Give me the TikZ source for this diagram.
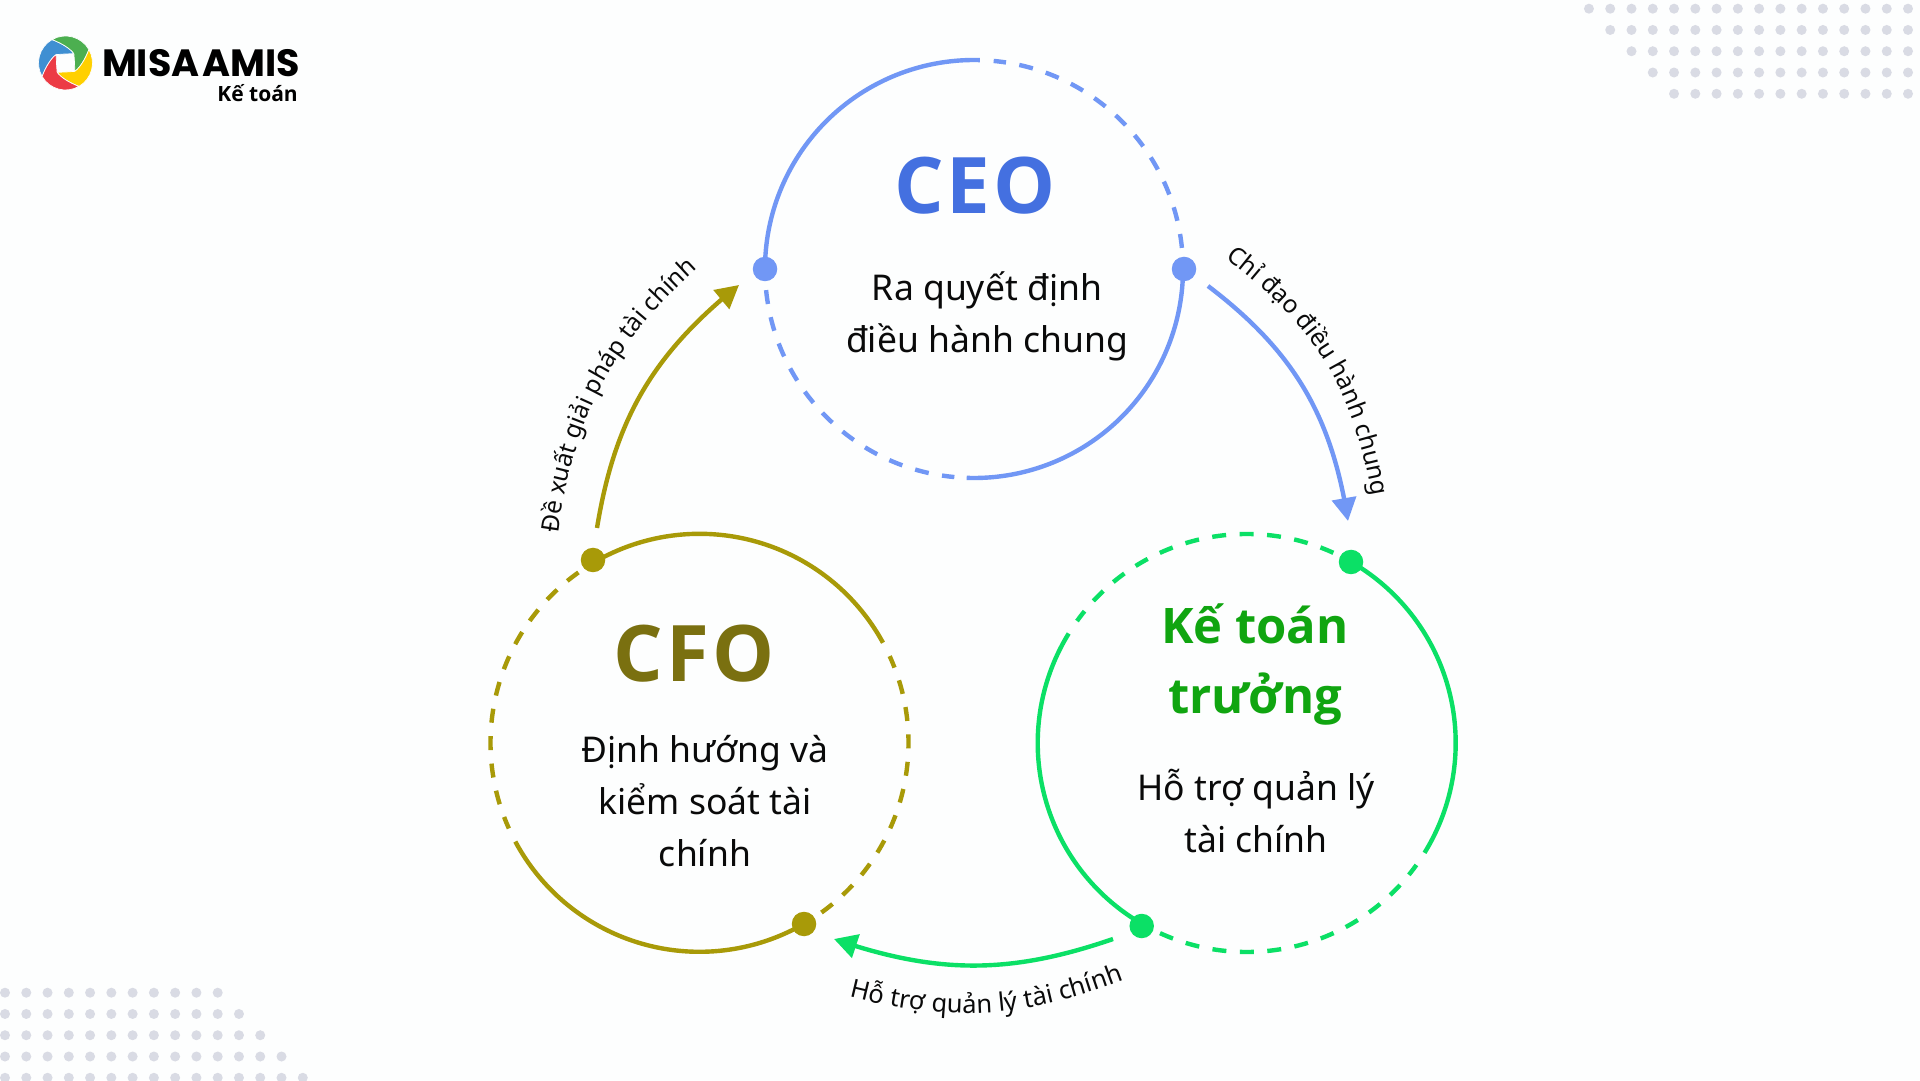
\documentclass[tikz,border=0pt]{standalone}
\usepackage{fontspec}
\setmainfont{Noto Sans}
\newfontfamily\logofont{Poppins}[WordSpace=0.35]
\newfontfamily\headfont{Open Sans}
\newfontfamily\bigheadfont{Open Sans}[LetterSpace=4]
\usetikzlibrary{arrows.meta,bending,decorations.text}
\definecolor{bgc}{HTML}{FDFEFE}
\definecolor{dotc}{HTML}{D9DBE4}
\definecolor{bluel}{HTML}{7197F5}
\definecolor{bluet}{HTML}{4470E0}
\definecolor{olivel}{HTML}{A89A08}
\definecolor{olivet}{HTML}{7A7010}
\definecolor{greenl}{HTML}{0BE066}
\definecolor{greent}{HTML}{10A510}
\definecolor{inkc}{HTML}{0A0A0A}
\definecolor{lgreen}{HTML}{4CAF50}
\definecolor{lyellow}{HTML}{FFD000}
\definecolor{lred}{HTML}{EC3B45}
\definecolor{lblue}{HTML}{3F8FD2}
\tikzset{
  ring/.style={line width=4.4pt},
  ringdash/.style={line width=4.4pt,dash pattern=on 14pt off 13.5pt},
  knob/.style={circle,inner sep=0pt,minimum size=24.5pt},
  flow/.style={line width=4.4pt,-{Triangle[width=24pt,length=23pt,flex=1]}},
  title/.style={font=\bigheadfont\bfseries\fontsize{78}{78}\selectfont,inner sep=0pt,anchor=base},
  subtitle/.style={font=\headfont\bfseries\fontsize{49}{70}\selectfont,inner sep=0pt,anchor=base,align=center,text=greent},
  body/.style={font=\fontsize{35.5}{52}\selectfont,inner sep=0pt,anchor=base,align=center,text=inkc},
}
\newcommand{\lab}{\fontsize{24.5}{24.5}\selectfont\color{inkc}}
\newcommand{\labb}{\fontsize{25.5}{25.5}\selectfont\color{inkc}}
\begin{document}
\begin{tikzpicture}[x=1pt,y=1pt]
\useasboundingbox (0,0) rectangle (1920,1080);
\fill[bgc] (0,0) rectangle (1920,1080);
\begin{scope}
\clip (0,0) rectangle (1920,1080);
% dot fields
\foreach \r/\n in {0/15,1/14,2/13,3/12,4/11}{
  \foreach \c in {0,...,\n}{
    \fill[dotc] ({1908-21.27*\c},{1071.3-21.27*\r}) circle[radius=5];
  }
}
\foreach \r/\n in {0/10,1/11,2/12,3/13,4/14}{
  \foreach \c in {0,...,\n}{
    \fill[dotc] ({5+21.27*\c},{87.3-21.27*\r}) circle[radius=5];
  }
}
\end{scope}
% logo
\begin{scope}[shift={(65.5,1017)}]
\foreach \a/\col in {0/lblue,-90/lgreen,-180/lyellow,-270/lred}{
  \fill[\col,rotate=\a,draw=bgc,line width=0.7pt] (210:27) arc[start angle=210,end angle=120,radius=27]
    .. controls (100:20) and (70:15) .. (48:12.5)
    .. controls (75:9.5) and (110:9.5) .. (138:12.5)
    .. controls (160:15) and (190:20) .. cycle;
}
\end{scope}
\node[inner sep=0pt,anchor=base east,font=\logofont\bfseries\fontsize{38}{38}\selectfont,text=black] (logoname) at (300,1003) {MISA AMIS};
\node[inner sep=0pt,anchor=base east,font=\headfont\bfseries\fontsize{21}{21}\selectfont,text=black] (logosub) at (298,978) {Kế toán};
% centres
\coordinate (ceo) at (974,811);
\coordinate (cfo) at (699.5,337.2);
\coordinate (kt) at (1246.7,337);
% CEO ring
\draw[ring,bluel] ([shift={(88.4:209)}]ceo) arc[start angle=88.4,end angle=180,radius=209];
\draw[ringdash,bluel] ([shift={(185.8:209)}]ceo) arc[start angle=185.8,end angle=264.6,radius=209];
\draw[ring,bluel] ([shift={(268:209)}]ceo) arc[start angle=268,end angle=360,radius=209];
\draw[ringdash,bluel] ([shift={(5.8:209)}]ceo) arc[start angle=5.8,end angle=84.6,radius=209];
\node[knob,fill=bluel] (ceoL) at ([shift={(180:209)}]ceo) {};
\node[knob,fill=bluel] (ceoR) at ([shift={(0:210)}]ceo) {};
% CFO ring
\draw[ring,olivel] ([shift={(28.6:209)}]cfo) arc[start angle=28.6,end angle=120,radius=209];
\draw[ringdash,olivel] ([shift={(125.4:209)}]cfo) arc[start angle=125.4,end angle=204.2,radius=209];
\draw[ring,olivel] ([shift={(208.2:209)}]cfo) arc[start angle=208.2,end angle=300,radius=209];
\draw[ringdash,olivel] ([shift={(305.7:209)}]cfo) arc[start angle=305.7,end angle=384.5,radius=209];
\node[knob,fill=olivel] (cfoT) at (593,520) {};
\node[knob,fill=olivel] (cfoB) at (804,156) {};
% KT ring
\draw[ring,greenl] ([shift={(148.4:209)}]kt) arc[start angle=148.4,end angle=240,radius=209];
\draw[ringdash,greenl] ([shift={(245.5:209)}]kt) arc[start angle=245.5,end angle=324.3,radius=209];
\draw[ring,greenl] ([shift={(328.3:209)}]kt) arc[start angle=328.3,end angle=420,radius=209];
\draw[ringdash,greenl] ([shift={(65.5:209)}]kt) arc[start angle=65.5,end angle=144.3,radius=209];
\node[knob,fill=greenl] (ktT) at (1351,518) {};
\node[knob,fill=greenl] (ktB) at (1141.7,154) {};
% arrows
\coordinate (a1s) at (1208,794); \coordinate (a1e) at (1348,559);
\coordinate (a2s) at (597,552);  \coordinate (a2e) at (739,795);
\coordinate (a3s) at (1113,141); \coordinate (a3e) at (834,141);
\draw[flow,bluel] (a1s) to[bend left=22] (a1e);
\draw[flow,olivel] (a2s) to[bend left=21] (a2e);
\draw[flow,greenl] (a3s) to[bend left=19] (a3e);
% curved labels
\coordinate (t1s) at (1225,822); \coordinate (t1e) at (1372,583);
\coordinate (t2s) at (558,546);  \coordinate (t2e) at (698,812);
\coordinate (t3s) at (843,85);   \coordinate (t3e) at (1130,102);
\path[decorate,decoration={text along path,text align=center,text={|\lab|Chỉ đạo điều hành chung}}] (t1s) to[bend left=22] (t1e);
\path[decorate,decoration={text along path,text align=center,text={|\lab|Đề xuất giải pháp tài chính}}] (t2s) to[bend left=20] (t2e);
\path[decorate,decoration={text along path,text align=center,text={|\labb|Hỗ trợ quản lý tài chính}}] (t3s) to[bend right=18] (t3e);
% texts
\node[title,text=bluet] (ceoT) at (975,866) {CEO};
\node[body] (ceoB) at (987,727) {Ra quyết định\\điều hành chung};
\node[title,text=olivet] (cfoTi) at (694,398) {CFO};
\node[body] (cfoBo) at (705,214) {Định hướng và\\kiểm soát tài\\chính};
\node[subtitle] (ktTi) at (1255,366) {Kế toán\\trưởng};
\node[body] (ktBo) at (1256,228) {Hỗ trợ quản lý\\tài chính};
\end{tikzpicture}
\end{document}
